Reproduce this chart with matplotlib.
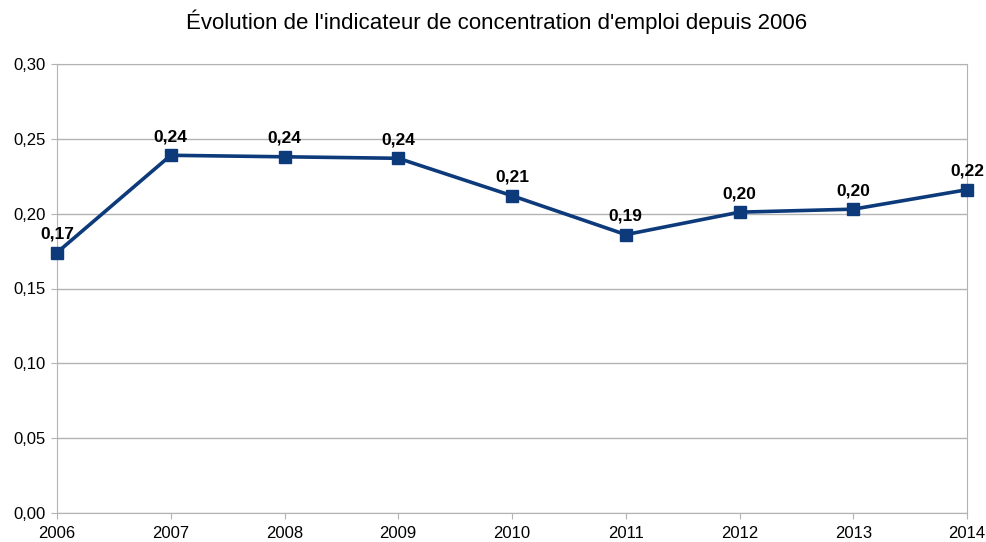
import numpy as np
from matplotlib import pyplot as plt

plt.rcParams['font.family'] = ['Liberation Sans', 'DejaVu Sans']

years = [2006, 2007, 2008, 2009, 2010, 2011, 2012, 2013, 2014]
values = [0.174, 0.239, 0.238, 0.237, 0.212, 0.186, 0.201, 0.203, 0.216]
yticks = [0.00, 0.05, 0.10, 0.15, 0.20, 0.25, 0.30]
title = "Évolution de l'indicateur de concentration d'emploi depuis 2006"


def fmt(v):
    return ('%.2f' % v).replace('.', ',')


def main():
    fig = plt.figure(figsize=(9.87, 5.42), dpi=100)
    ax = fig.add_axes([57 / 987, 29 / 542, 910 / 987, 449 / 542])

    color = '#0d3a7a'
    ax.plot(years, values, color=color, lw=2.6, marker='s', ms=9, zorder=3, clip_on=False)
    for x, v in zip(years, values):
        ax.annotate(fmt(v), (x, v), xytext=(0, 8), textcoords='offset points',
                    ha='center', va='bottom', fontsize=12.5, fontweight='bold')

    ax.set_xlim(years[0], years[-1])
    ax.set_ylim(0, 0.30)
    ax.set_xticks(years)
    ax.set_yticks(yticks)
    ax.set_yticklabels([fmt(t) for t in yticks])
    ax.tick_params(labelsize=12, length=4, color='#b3b3b3')
    ax.tick_params(axis='x', pad=5)
    ax.tick_params(axis='y', pad=4)
    ax.yaxis.grid(True, color='#b3b3b3', lw=1)
    ax.set_axisbelow(True)
    for s in ax.spines.values():
        s.set_color('#b3b3b3')

    fig.text(497 / 987, 1 - 22 / 542, title, ha='center', va='center', fontsize=16)

    fig.savefig('out.png', dpi=100)


if __name__ == '__main__':
    main()
